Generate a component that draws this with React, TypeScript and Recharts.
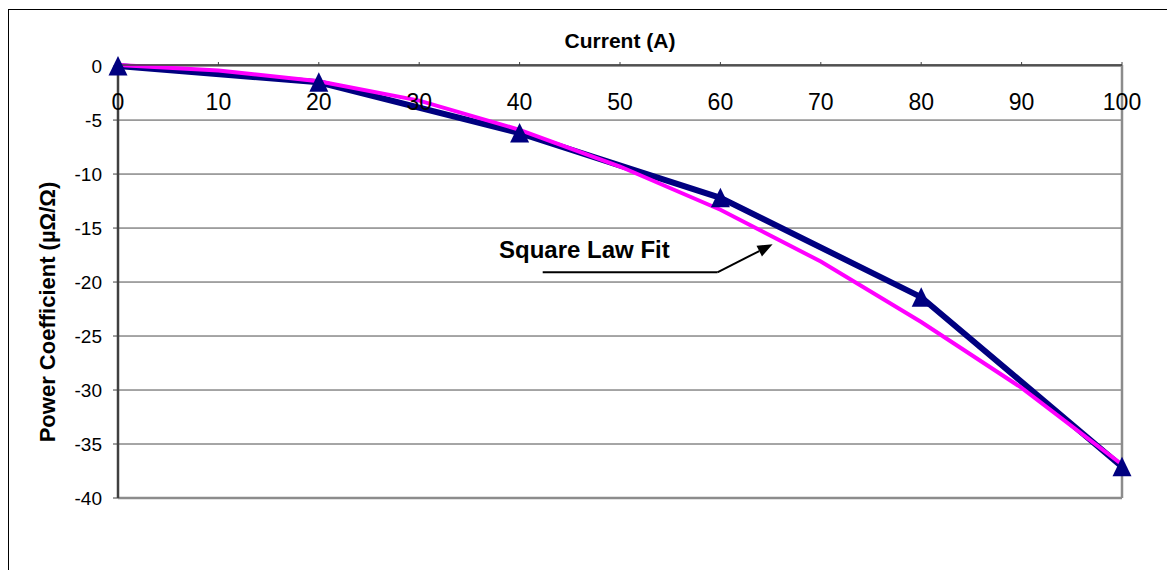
import {
  LineChart,
  Line,
  XAxis,
  YAxis,
  CartesianGrid,
  ReferenceLine,
  Customized,
} from "recharts"

const font = "'Liberation Sans', Arial, sans-serif"

// axis ticks
const currentTicks = [0, 10, 20, 30, 40, 50, 60, 70, 80, 90, 100]
const coefTicks = [0, -5, -10, -15, -20, -25, -30, -35, -40]

// measured points (triangles)
const measuredCurrent = [0, 20, 40, 60, 80, 100]
const measuredCoef = [0, -1.5, -6.2, -12.2, -21.4, -37.1]

// square law fit, read at every 10 A
const fitCurrent = [0, 10, 20, 30, 40, 50, 60, 70, 80, 90, 100]
const fitCoef = [0.1, -0.4, -1.4, -3.2, -5.9, -9.3, -13.3, -18.1, -23.7, -29.8, -36.9]

// annotation arrow, in data units
const arrowTail = { x: 42.3, y: -19.1 }
const arrowBend = { x: 59.7, y: -19.1 }
const arrowTip = { x: 65.2, y: -16.5 }

const data = fitCurrent.map((x, i) => {
  const j = measuredCurrent.indexOf(x)
  return { current: x, fit: fitCoef[i], measured: j >= 0 ? measuredCoef[j] : null }
})

const PLOT_TOP = 57

const currentTick = (p: any) => (
  <text
    key={`xt-${p.index}`}
    x={p.x}
    y={PLOT_TOP + 45}
    textAnchor="middle"
    fontSize={23}
    fill="#000"
    fontFamily={font}
  >
    {p.payload.value}
  </text>
)

const Triangle = (p: any) => {
  if (p.cx == null || p.cy == null || p.value == null) return <g key={`t-${p.index}`} />
  const { cx, cy } = p
  return (
    <polygon
      key={`t-${p.index}`}
      points={`${cx},${cy - 10} ${cx - 9.5},${cy + 9.5} ${cx + 9.5},${cy + 9.5}`}
      fill="#000080"
      stroke="none"
    />
  )
}

const ArrowHead = (p: any) => {
  const { x1, y1, x2, y2 } = p
  const ang = Math.atan2(y2 - y1, x2 - x1)
  const len = 15
  const half = 6
  const bx = x2 - len * Math.cos(ang)
  const by = y2 - len * Math.sin(ang)
  const nx = -Math.sin(ang) * half
  const ny = Math.cos(ang) * half
  return (
    <g>
      <line x1={x1} y1={y1} x2={bx} y2={by} stroke="#000" strokeWidth={2} />
      <polygon points={`${x2},${y2} ${bx + nx},${by + ny} ${bx - nx},${by - ny}`} fill="#000" />
    </g>
  )
}

const Labels = () => (
  <g fontFamily={font} fill="#000" fontWeight="bold">
    <text x={612} y={40} textAnchor="middle" fontSize={21}>
      Current (A)
    </text>
    <text
      x={39}
      y={304}
      transform="rotate(-90, 39, 304)"
      textAnchor="middle"
      dominantBaseline="central"
      fontSize={22}
    >
      Power Coefficient (µΩ/Ω)
    </text>
    <text x={491} y={250} fontSize={24}>
      Square Law Fit
    </text>
  </g>
)

export default function App() {
  return (
    <div style={{ position: "relative", width: 1167, height: 562, overflow: "hidden" }}>
      <style>{`body{overflow:hidden}`}</style>
      <div
        style={{
          position: "absolute",
          left: 0,
          top: 1,
          width: 1300,
          height: 700,
          borderLeft: "1px solid #000",
          borderTop: "1px solid #000",
        }}
      />
      <div style={{ position: "absolute", left: 0, top: 0 }}>
        <LineChart
          width={1167}
          height={562}
          data={data}
          margin={{ top: PLOT_TOP - 20, right: 53, bottom: 72, left: 50 }}
        >
          <CartesianGrid horizontal vertical={false} stroke="#4d4d4d" strokeWidth={1} />
          <XAxis
            dataKey="current"
            type="number"
            domain={[0, 100]}
            ticks={currentTicks}
            orientation="top"
            height={20}
            tickSize={3}
            tickMargin={0}
            axisLine={{ stroke: "#404040", strokeWidth: 1.5 }}
            tickLine={{ stroke: "#404040" }}
            tick={currentTick}
            interval={0}
          />
          <YAxis
            type="number"
            domain={[-40, 0]}
            ticks={coefTicks}
            width={60}
            tickSize={5}
            tickMargin={11}
            axisLine={{ stroke: "#404040", strokeWidth: 2.5 }}
            tickLine={{ stroke: "#404040" }}
            tick={{ fontSize: 19, fill: "#000", fontFamily: font }}
            interval={0}
          />
          <ReferenceLine y={-40} stroke="#8c8c8c" strokeWidth={2.5} />
          <ReferenceLine x={100} stroke="#8c8c8c" strokeWidth={2.5} />
          <Line
            dataKey="measured"
            stroke="#000080"
            strokeWidth={6}
            dot={false}
            connectNulls
            isAnimationActive={false}
          />
          <Line
            dataKey="fit"
            stroke="#ff00ff"
            strokeWidth={4}
            dot={false}
            isAnimationActive={false}
          />
          <Line
            dataKey="measured"
            stroke="none"
            dot={Triangle}
            connectNulls
            isAnimationActive={false}
          />
          <ReferenceLine
            segment={[arrowTail, arrowBend]}
            stroke="#000"
            strokeWidth={2}
          />
          <ReferenceLine
            segment={[arrowBend, arrowTip]}
            shape={ArrowHead}
          />
          <Customized component={<Labels />} />
        </LineChart>
      </div>
    </div>
  )
}
